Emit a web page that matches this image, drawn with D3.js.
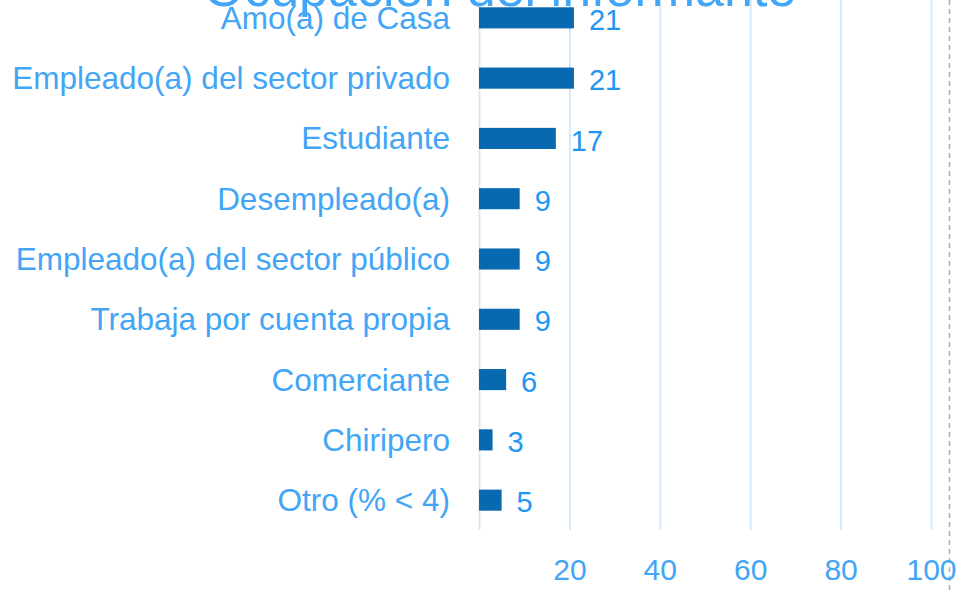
<!DOCTYPE html>
<html>
<head>
<meta charset="utf-8">
<script src="https://cdn.jsdelivr.net/npm/d3@7"></script>
<style>
  body { margin: 0; background: #fff; }
  text { font-family: "Liberation Sans", Arial, sans-serif; }
</style>
</head>
<body>
<div id="chart"></div>
<script>
// data
var categories = ["Amo(a) de Casa", "Empleado(a) del sector privado", "Estudiante",
  "Desempleado(a)", "Empleado(a) del sector público", "Trabaja por cuenta propia",
  "Comerciante", "Chiripero", "Otro (% < 4)"]
var values = [21, 21, 17, 9, 9, 9, 6, 3, 5]
var xTicks = [20, 40, 60, 80, 100]
var title = "Ocupación del informante"

var width = 960, height = 592
var margin = { top: -12, left: 479, right: 29, bottom: 62 }

var svg = d3.select("#chart").append("svg")
    .attr("width", width)
    .attr("height", height)

var x = d3.scaleLinear()
    .domain([0, 100])
    .range([margin.left, 931])

var y = d3.scaleBand()
    .domain(categories)
    .range([margin.top, 530])
    .paddingInner(0.65)
    .paddingOuter(0.32)

// gridlines
svg.append("g")
    .selectAll("line")
    .data([0].concat(xTicks))
    .enter().append("line")
    .attr("x1", d => x(d) + 0.5)
    .attr("x2", d => x(d) + 0.5)
    .attr("y1", 0)
    .attr("y2", 530)
    .attr("stroke", "#d3e9fb")
    .attr("stroke-width", 2)

// dashed reference line on the right
svg.append("line")
    .attr("x1", 949.5).attr("x2", 949.5)
    .attr("y1", 0).attr("y2", height)
    .attr("stroke", "#b0b0b0")
    .attr("stroke-width", 1.5)
    .attr("stroke-dasharray", "5,4")

// bottom axis (labels only)
var axis = svg.append("g")
    .attr("transform", "translate(0,530)")
    .call(d3.axisBottom(x).tickValues(xTicks).tickSize(0).tickPadding(29))
axis.select(".domain").remove()
axis.selectAll("text")
    .attr("fill", "#42a5f5")
    .style("font-size", "30px")
    .style("font-family", "'Liberation Sans', Arial, sans-serif")

// title, mostly cut off by top edge
svg.append("text")
    .attr("x", 500)
    .attr("y", 6)
    .attr("text-anchor", "middle")
    .attr("fill", "#42a5f5")
    .style("font-size", "52px")
    .text(title)

// bars
svg.selectAll(".bar")
    .data(values)
    .enter().append("rect")
    .attr("class", "bar")
    .attr("x", x(0))
    .attr("y", (d, i) => y(categories[i]))
    .attr("width", d => x(d) - x(0))
    .attr("height", y.bandwidth())
    .attr("fill", "#0868b0")

// category labels
svg.selectAll(".cat")
    .data(categories)
    .enter().append("text")
    .attr("class", "cat")
    .attr("x", 450)
    .attr("y", d => y(d) + y.bandwidth() / 2)
    .attr("dy", "0.35em")
    .attr("text-anchor", "end")
    .attr("fill", "#42a5f5")
    .style("font-size", "31.5px")
    .text(d => d)

// value labels
svg.selectAll(".val")
    .data(values)
    .enter().append("text")
    .attr("class", "val")
    .attr("x", d => x(d) + 15)
    .attr("y", (d, i) => y(categories[i]) + y.bandwidth() / 2 + 2)
    .attr("dy", "0.35em")
    .attr("fill", "#2196f3")
    .style("font-size", "29px")
    .text(d => d)
</script>
</body>
</html>
